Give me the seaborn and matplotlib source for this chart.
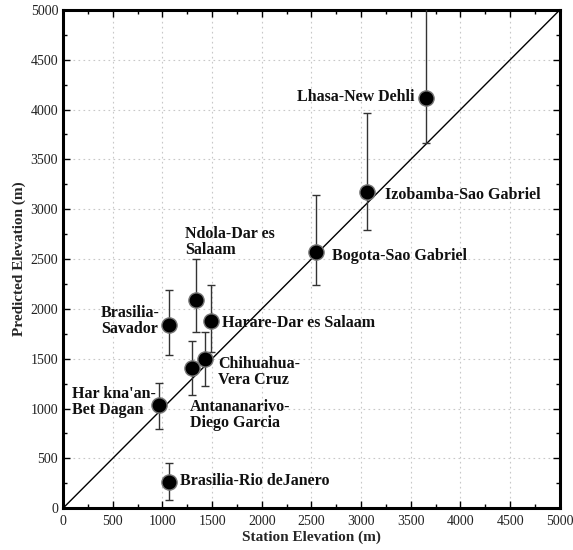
import numpy as np
import pandas as pd
import matplotlib
matplotlib.use("Agg")
import matplotlib.pyplot as plt
import seaborn as sns
from matplotlib.ticker import MultipleLocator

# station pairs and elevations (m)
pairs = ["Lhasa-New Dehli", "Izobamba-Sao Gabriel", "Bogota-Sao Gabriel",
         "Ndola-Dar es\nSalaam", "Harare-Dar es Salaam", "Brasilia-\nSavador",
         "Chihuahua-\nVera Cruz", "Antananarivo-\nDiego Garcia",
         "Har kna'an-\nBet Dagan", "Brasilia-Rio deJanero"]
station = [3655, 3055, 2545, 1335, 1485, 1065, 1430, 1300, 970, 1065]
predicted = [4115, 3170, 2575, 2085, 1875, 1840, 1495, 1410, 1040, 265]
err_up = [1200, 800, 570, 420, 360, 345, 275, 265, 215, 190]
err_down = [450, 380, 340, 315, 305, 305, 270, 275, 245, 180]

# label anchor positions (data coords) and alignment
label_x = [3535, 3240, 2710, 1232, 1603, 380, 1559, 1273, 94, 1182]
label_y = [4130, 3145, 2530, 2676, 1859, 1883, 1368, 938, 1066, 274]
label_ha = ["right", "left", "left", "left", "left", "left", "left", "left", "left", "left"]

df = pd.DataFrame({"station": station, "predicted": predicted})
one_to_one = pd.DataFrame({"x": [0, 5000], "y": [0, 5000]})

sns.set_theme(style="ticks")
plt.rcParams['font.family'] = ['Liberation Serif', 'DejaVu Serif']

fig = plt.figure(figsize=(5.73, 5.5), dpi=100)
ax = fig.add_axes([0.110, 0.076, 0.867, 0.906])

ax.grid(True, which="major", color="#c8c8c8", linestyle=(0, (1.5, 3)), linewidth=0.8)
ax.set_axisbelow(True)

sns.lineplot(data=one_to_one, x="x", y="y", color="black", linewidth=1.0, ax=ax)

ax.errorbar(station, predicted, yerr=[err_down, err_up], fmt="none",
            ecolor="#333333", elinewidth=1.0, capsize=3, capthick=1.0, zorder=3)

sns.scatterplot(data=df, x="station", y="predicted", color="black", s=120,
                edgecolor="#777777", linewidth=1.0, ax=ax, zorder=4)

for name, lx, ly, ha in zip(pairs, label_x, label_y, label_ha):
    ax.text(lx, ly, name, ha=ha, va="center", fontsize=11.5, fontweight="bold",
            linespacing=1.0, color="#111111", zorder=5)

ax.set_xlim(0, 5000)
ax.set_ylim(0, 5000)
ax.xaxis.set_major_locator(MultipleLocator(500))
ax.yaxis.set_major_locator(MultipleLocator(500))
ax.xaxis.set_minor_locator(MultipleLocator(250))
ax.yaxis.set_minor_locator(MultipleLocator(250))
ax.tick_params(which="both", direction="in", top=True, right=True, colors="black",
               labelsize=10, labelcolor="#222222")
ax.tick_params(axis="x", which="major", pad=5)
ax.tick_params(which="major", length=5, width=1.0)
ax.tick_params(which="minor", length=3, width=1.0)

for sp in ax.spines.values():
    sp.set_linewidth(2.2)
    sp.set_color("black")

ax.set_xlabel("Station Elevation (m)", fontsize=11, fontweight="bold", labelpad=2)
ax.set_ylabel("Predicted Elevation (m)", fontsize=11, fontweight="bold", labelpad=3)

fig.savefig("out.png", dpi=100)
